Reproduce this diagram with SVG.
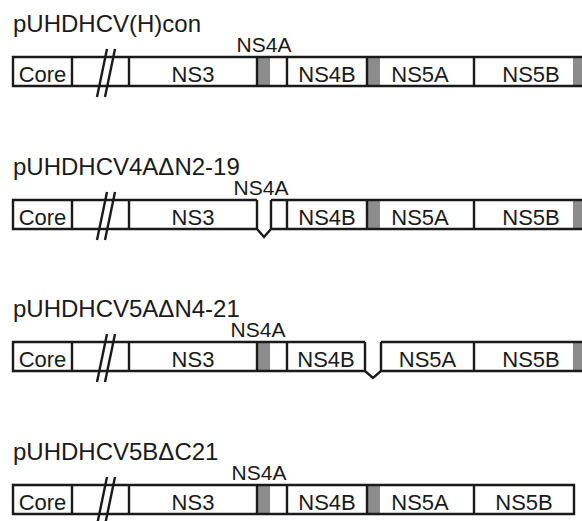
<svg xmlns="http://www.w3.org/2000/svg" width="582" height="521" viewBox="0 0 582 521">
<style>
.ttl{font-family:"Liberation Sans",Arial,sans-serif;font-size:24px;fill:#1a1a1a}
.lbl{font-family:"Liberation Sans",Arial,sans-serif;font-size:22px;fill:#1a1a1a;text-anchor:middle}
.top{font-family:"Liberation Sans",Arial,sans-serif;font-size:21px;fill:#1a1a1a;text-anchor:middle}
.ol{fill:none;stroke:#1a1a1a;stroke-width:2.4}
.gr{fill:#8c8c8c}
.sl{stroke:#1a1a1a;stroke-width:2.4;fill:none}
</style>
<rect width="582" height="521" fill="#fff"/>
<defs>
<g id="slash">
<line class="sl" x1="97" y1="40" x2="107" y2="-8"/>
<line class="sl" x1="105" y1="40" x2="115" y2="-8"/>
</g>
</defs>

<g id="construct1">
<text class="ttl" x="13" y="32">pUHDHCV(H)con</text>
<text class="top" x="264" y="52">NS4A</text>
<g transform="translate(0,57)">
<rect class="gr" x="258" y="0" width="12" height="29"/>
<rect class="gr" x="368" y="0" width="12" height="29"/>
<rect class="gr" x="573" y="0" width="12" height="29"/>
<path class="ol" d="M585,0 H13 V29 H585 M72,0 V29 M129,0 V29 M257,0 V29 M287,0 V29 M367,0 V29 M474,0 V29"/>
<use href="#slash"/>
<text class="lbl" x="42.5" y="24.5">Core</text>
<text class="lbl" x="193" y="24.5">NS3</text>
<text class="lbl" x="327" y="24.5">NS4B</text>
<text class="lbl" x="420" y="24.5">NS5A</text>
<text class="lbl" x="531" y="24.5">NS5B</text>
</g>
</g>

<g id="construct2">
<text class="ttl" x="13" y="175">pUHDHCV4AΔN2-19</text>
<text class="top" x="261" y="195">NS4A</text>
<g transform="translate(0,200)">
<rect class="gr" x="368" y="0" width="12" height="29"/>
<rect class="gr" x="573" y="0" width="12" height="29"/>
<path class="ol" d="M257,0 H13 V29 H257 L264,37 L271,29 H585 M271,0 H585 M72,0 V29 M129,0 V29 M257,0 V29 M271,0 V29 M287,0 V29 M367,0 V29 M474,0 V29"/>
<use href="#slash"/>
<text class="lbl" x="42.5" y="24.5">Core</text>
<text class="lbl" x="193" y="24.5">NS3</text>
<text class="lbl" x="327" y="24.5">NS4B</text>
<text class="lbl" x="420" y="24.5">NS5A</text>
<text class="lbl" x="531" y="24.5">NS5B</text>
</g>
</g>

<g id="construct3">
<text class="ttl" x="13" y="317">pUHDHCV5AΔN4-21</text>
<text class="top" x="258" y="337">NS4A</text>
<g transform="translate(0,342)">
<rect class="gr" x="258" y="0" width="12" height="29"/>
<rect class="gr" x="573" y="0" width="12" height="29"/>
<path class="ol" d="M365,0 H13 V29 H365 L373,36 L381,29 H585 M381,0 H585 M72,0 V29 M129,0 V29 M257,0 V29 M287,0 V29 M365,0 V29 M381,0 V29 M474,0 V29"/>
<use href="#slash"/>
<text class="lbl" x="42.5" y="24.5">Core</text>
<text class="lbl" x="193" y="24.5">NS3</text>
<text class="lbl" x="326" y="24.5">NS4B</text>
<text class="lbl" x="427.5" y="24.5">NS5A</text>
<text class="lbl" x="531" y="24.5">NS5B</text>
</g>
</g>

<g id="construct4">
<text class="ttl" x="13" y="460">pUHDHCV5BΔC21</text>
<text class="top" x="259" y="480">NS4A</text>
<g transform="translate(0,485)">
<rect class="gr" x="258" y="0" width="12" height="29"/>
<rect class="gr" x="368" y="0" width="12" height="29"/>
<path class="ol" d="M13,0 H574 V29 H13 Z M72,0 V29 M129,0 V29 M257,0 V29 M287,0 V29 M367,0 V29 M474,0 V29"/>
<use href="#slash"/>
<text class="lbl" x="42.5" y="24.5">Core</text>
<text class="lbl" x="193" y="24.5">NS3</text>
<text class="lbl" x="327" y="24.5">NS4B</text>
<text class="lbl" x="420" y="24.5">NS5A</text>
<text class="lbl" x="524" y="24.5">NS5B</text>
</g>
</g>
</svg>
